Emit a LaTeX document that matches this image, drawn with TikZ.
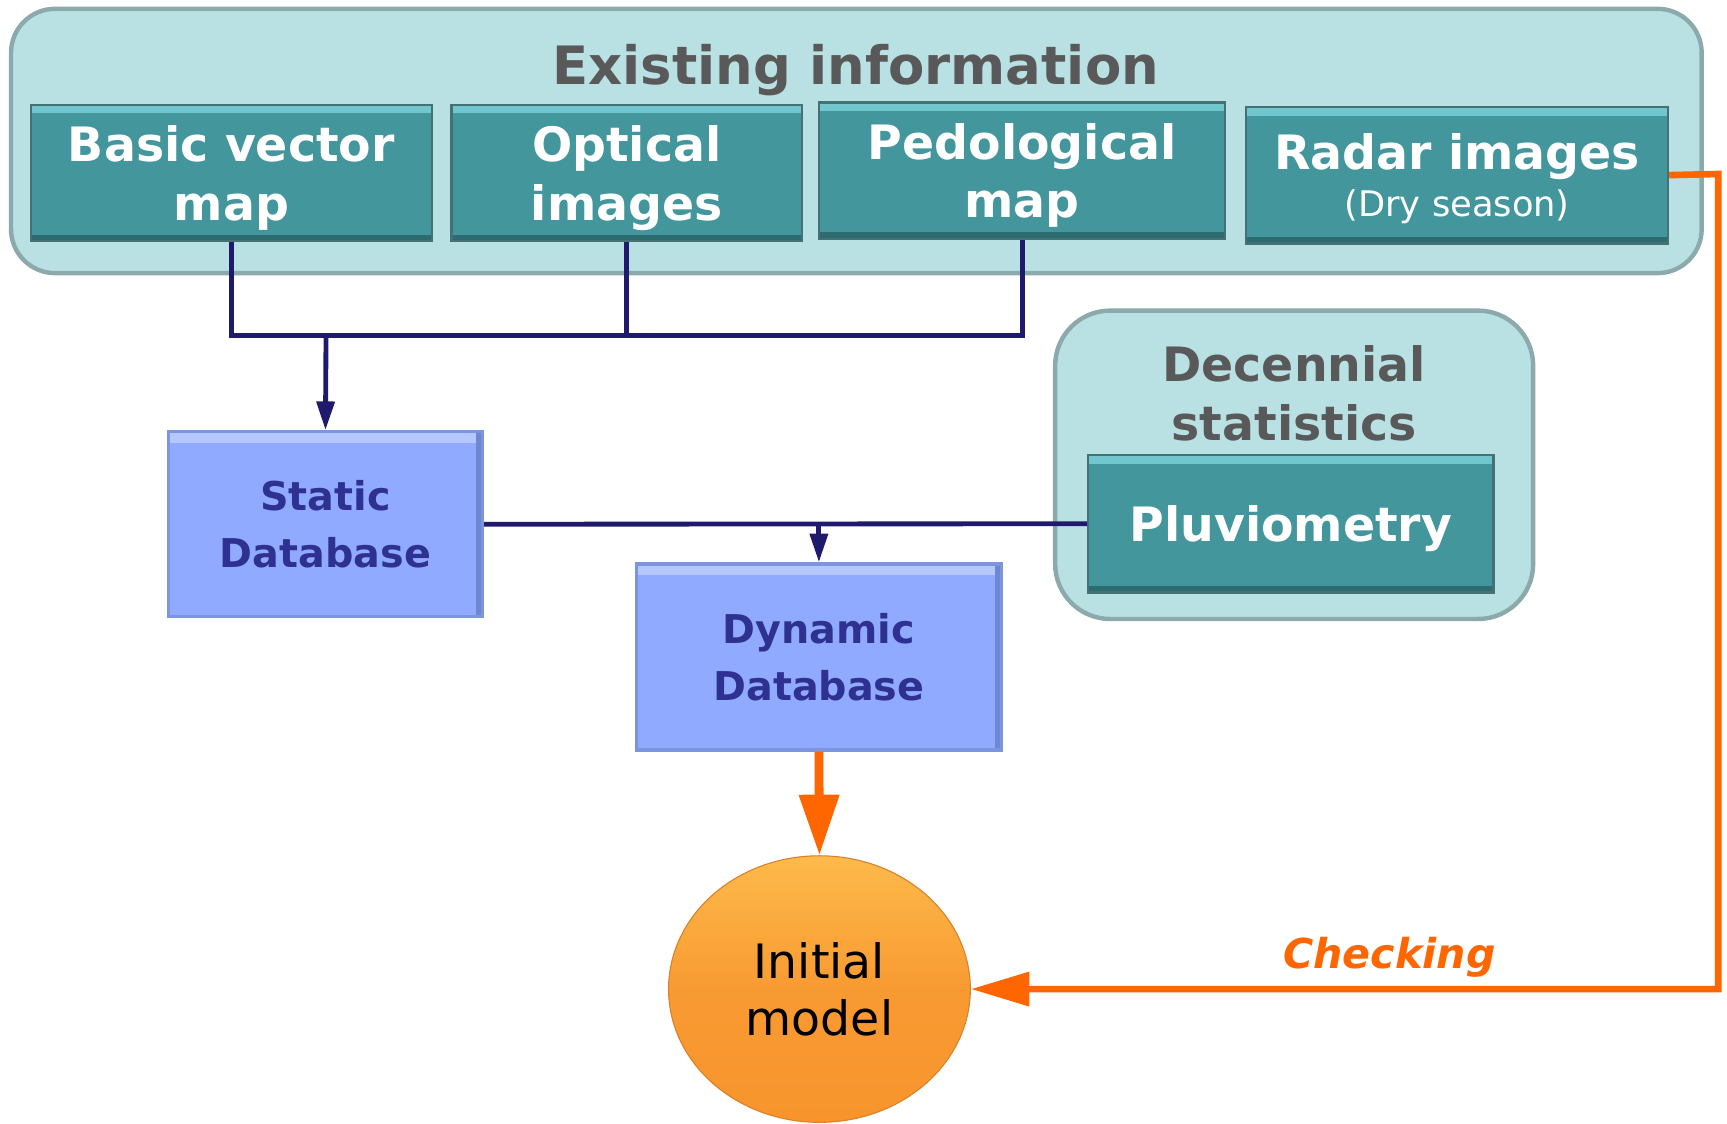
\documentclass[tikz,border=0pt]{standalone}
\usepackage{fontspec}
\setmainfont{DejaVu Sans}
\usetikzlibrary{arrows.meta,shapes.geometric}
\definecolor{palecyan}{HTML}{B9E0E3}
\definecolor{groupline}{HTML}{8CA9AB}
\definecolor{srcteal}{HTML}{44969D}
\definecolor{srchi}{HTML}{72C6CE}
\definecolor{srclo}{HTML}{2C6B70}
\definecolor{dbblue}{HTML}{8FAAFE}
\definecolor{dbhi}{HTML}{B4C8FF}
\definecolor{dblo}{HTML}{6F86D0}
\definecolor{dbline}{HTML}{7C95E0}
\definecolor{dbtext}{HTML}{2E3192}
\definecolor{navyline}{HTML}{1F1A6B}
\definecolor{checkorange}{HTML}{FF6600}
\definecolor{greytext}{HTML}{595959}
\definecolor{balltop}{HTML}{FDBA4A}
\definecolor{ballmid}{HTML}{F89A32}
\definecolor{ballbot}{HTML}{F7952C}
\definecolor{ballrim}{HTML}{D9822A}
\tikzset{
  >={Triangle[length=13pt,width=8pt]},
}
\tikzstyle{group}=[draw=groupline,line width=2pt,fill=palecyan,rounded corners=20pt]
\tikzstyle{grouptitle}=[text=greytext,font=\bfseries\fontsize{21.5}{26.5}\selectfont,align=center]
\tikzstyle{src}=[draw=srclo!70!gray,line width=1pt,fill=srcteal,inner sep=0pt,text depth=0pt,
  text=white,font=\bfseries\fontsize{21.5}{26.5}\selectfont,align=center,
  path picture={
    \fill[srchi] (path picture bounding box.north west) rectangle ([yshift=-4pt]path picture bounding box.north east);
    \fill[srclo] (path picture bounding box.south west) rectangle ([yshift=3pt]path picture bounding box.south east);
  }]
\tikzstyle{db}=[draw=dbline,line width=1.5pt,fill=dbblue,inner sep=0pt,
  text=dbtext,font=\bfseries\fontsize{18}{26}\selectfont,align=center,
  path picture={
    \fill[dbhi] (path picture bounding box.north west) rectangle ([yshift=-5pt]path picture bounding box.north east);
    \fill[dblo] (path picture bounding box.north east) rectangle ([xshift=-3pt]path picture bounding box.south east);
  }]
\tikzstyle{link}=[navyline,line width=2.2pt]
\tikzstyle{feed}=[checkorange,line width=3pt]

\begin{document}
\begin{tikzpicture}[x=0.5pt,y=-0.5pt]
  \useasboundingbox (0,0) rectangle (1568,1020);
  \node[group,minimum width=767.5pt,minimum height=120pt] (exist) at (777.5,128) {};
  \node[grouptitle,font=\bfseries\fontsize{24}{28}\selectfont,anchor=base] (existtitle) at (777,77) {Existing information};
  \node[src,minimum width=182pt,minimum height=62pt] (bvm) at (210,157) {Basic vector\\map};
  \node[src,minimum width=159pt,minimum height=62pt] (opt) at (569,157) {Optical\\images};
  \node[src,minimum width=184.5pt,minimum height=62pt] (ped) at (928,155) {Pedological\\map};
  \node[src,minimum width=191.5pt,minimum height=62pt] (rad) at (1323,159)
    {Radar images\\[-5pt]{\mdseries\fontsize{16}{19}\selectfont (Dry season)}};

  \node[group,rounded corners=25pt,minimum width=217pt,minimum height=140pt] (dec) at (1175,422) {};
  \node[grouptitle] (dectitle) at (1175,357) {Decennial\\statistics};
  \node[src,minimum width=184pt,minimum height=62.5pt] (pluv) at (1172,475.5) {Pluviometry};

  \node[db,minimum width=142.5pt,minimum height=84pt] (sdb) at (295.5,476) {Static\\Database};
  \node[db,minimum width=165.5pt,minimum height=84.5pt] (ddb) at (743.5,596.5) {Dynamic\\Database};

  \node[ellipse,minimum width=137pt,minimum height=121pt,inner sep=0pt,
    top color=balltop,bottom color=ballbot,middle color=ballmid,
    draw=ballrim,line width=0.5pt,
    font=\fontsize{21.5}{26}\selectfont,align=center] (init) at (744,898) {Initial\\model};

  \coordinate (jn) at (296,305);
  \coordinate (turn) at (1560,158);
  \draw[link] (bvm.south) |- (jn) -| (ped.south);
  \draw[link] (opt.south) -- (opt.south |- jn);
  \draw[link,->] (jn) -- (sdb.north);
  \draw[link] (sdb.east) -- (pluv.west);
  \draw[link,->] (ddb.north |- sdb.east) -- (ddb.north);
  \draw[feed,line width=4pt,-{Triangle[length=27.5pt,width=17.5pt]}] (ddb.south) -- (init.north);
  \draw[feed,-{Triangle[length=26.5pt,width=15pt]}] (rad.east) -- (turn) |-
    node[pos=0.72,above,inner sep=4pt,font=\bfseries\itshape\fontsize{18.7}{22}\selectfont] {Checking} (init.east);
\end{tikzpicture}
\end{document}
